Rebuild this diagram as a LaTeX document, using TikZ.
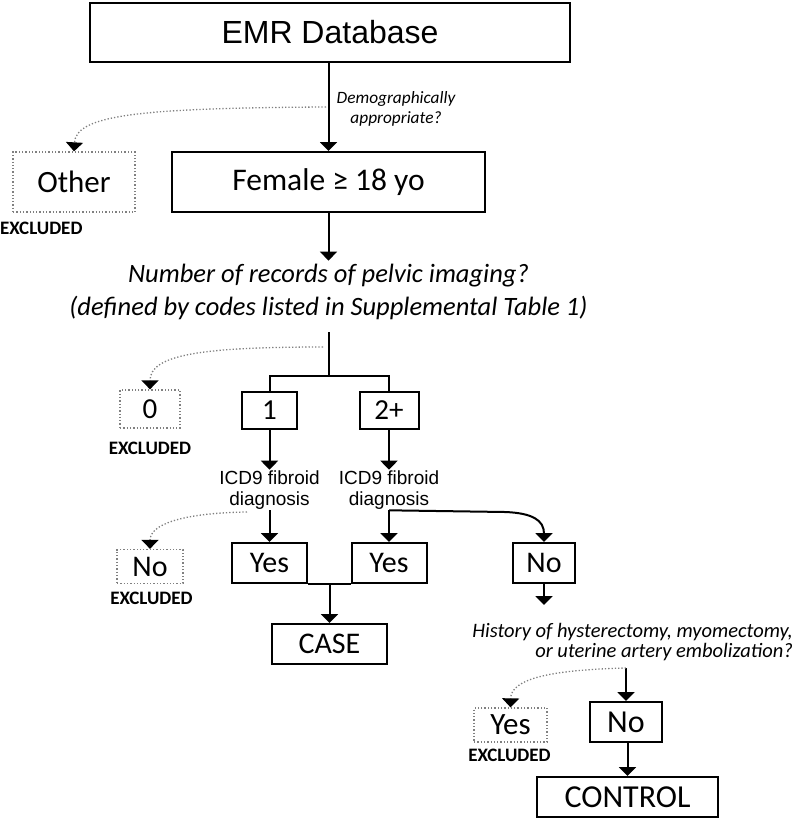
\documentclass[tikz,border=0pt]{standalone}
\usepackage{fontspec}
\setmainfont{Carlito}
\newfontfamily\arialfont{Liberation Sans}
\usetikzlibrary{arrows.meta}

\begin{document}
\begin{tikzpicture}[x=1pt, y=-1pt,
    box/.style n args={2}{draw, line width=2pt, inner sep=0pt,
        minimum width=#1, minimum height=#2},
    exclbox/.style n args={2}{draw=gray, dotted, line width=1.3pt, inner sep=0pt,
        minimum width=#1, minimum height=#2},
    flow/.style={line width=2pt, -{Triangle[width=17pt,length=9pt]}},
    link/.style={line width=2pt},
    exclflow/.style={draw=gray, dotted, line width=1.3pt,
        -{Triangle[width=17pt,length=9pt,color=black]}},
    txt/.style={font=\fontsize{#1}{#1}\selectfont},
    excl/.style={font=\fontsize{19}{20}\selectfont\bfseries},
    ask/.style 2 args={font=\fontsize{#1}{#2}\selectfont\itshape, align=center}
]
    \useasboundingbox (0,0) rectangle (792,820);

    % Top boxes
    \node[box={480pt}{59pt}, font=\arialfont\fontsize{32}{34}\selectfont] (emr) at (330,32.5) {EMR Database};
    \node[box={313pt}{60pt}, txt=31.5] (female) at (328.5,182) {Female ≥ 18 yo};
    \node[exclbox={122pt}{60pt}, txt=31] (other) at (74,182) {Other};
    \node[excl, anchor=east] (otherx) at (86,228) {EXCLUDED};

    \node[ask={17.3}{20}] (demo) at (396,109) {Demographically\\appropriate?};
    \coordinate (demosplit) at (326,107);
    \draw[flow] (emr.south -| female) -- (female);
    \draw[exclflow] (demosplit) .. controls (140,108) and (76,115) .. (other.north);

    % Pelvic imaging
    \node[ask={26.5}{33}] (imaging) at (328.5,292) {Number of records of pelvic imaging?\\(defined by codes listed in Supplemental Table 1)};
    \draw[flow] (female) -- (imaging);

    \node[box={55pt}{37pt}, txt=29] (one) at (269.5,410) {1};
    \node[box={59pt}{37pt}, txt=29] (two) at (389,410) {2+};
    \node[exclbox={60pt}{38pt}, txt=29] (zero) at (150,409) {0};
    \node[excl] (zerox) at (150,448) {EXCLUDED};

    \coordinate (imgtop) at (328.5,332);
    \coordinate (imgfork) at (328.5,376);
    \coordinate (imgsplit) at (323,347);
    \draw[link] (imgtop) -- (imgfork);
    \draw[link] (one.north) |- (imgfork) -| (two.north);
    \draw[exclflow] (imgsplit) .. controls (200,347) and (150,355) .. (zero.north);

    % ICD9 diagnosis
    \node[font=\arialfont\fontsize{19}{20.5}\selectfont, align=center, inner sep=1pt] (icdone) at (269.5,490) {ICD9 fibroid\\diagnosis};
    \node[font=\arialfont\fontsize{19}{20.5}\selectfont, align=center, inner sep=1pt] (icdtwo) at (389,490) {ICD9 fibroid\\diagnosis};
    \draw[flow] (one) -- (icdone);
    \draw[flow] (two) -- (icdtwo);

    \node[box={75pt}{40pt}, txt=30] (yesone) at (269.5,563) {Yes};
    \node[box={75pt}{40pt}, txt=30] (yestwo) at (389,563) {Yes};
    \node[box={62pt}{40pt}, txt=30] (notwo) at (544,563) {No};
    \node[exclbox={66pt}{34pt}, txt=30] (noone) at (150,566.5) {No};
    \node[excl] (nox) at (151.5,598) {EXCLUDED};

    \coordinate (icdsplit) at (247,512);
    \draw[flow] (icdone) -- (yesone);
    \draw[flow] (icdtwo) -- (yestwo);
    \draw[flow] (icdtwo.south) -- (505,512) .. controls (532,513) and (544,520) .. (notwo.north);
    \draw[exclflow] (icdsplit) .. controls (180,513) and (150,525) .. (noone.north);

    % Case
    \node[box={115pt}{40pt}, txt=30] (case) at (329.5,644) {CASE};
    \coordinate (yesjoin) at (329.5,583);
    \draw[link] (yesone.south east) -- (yestwo.south west);
    \draw[flow] (yesjoin) -- (case);

    % Control
    \node[ask={20.5}{20}, align=right, anchor=east, inner sep=0pt] (history) at (793,642) {History of hysterectomy, myomectomy,\\or uterine artery embolization?};
    \coordinate (histtop) at (544,605);
    \draw[flow] (notwo) -- (histtop);

    \node[box={72pt}{40pt}, txt=32] (nothree) at (626,722) {No};
    \node[exclbox={73pt}{34pt}, txt=31] (yesthree) at (510.5,725) {Yes};
    \node[excl] (yesx) at (509.5,755) {EXCLUDED};
    \node[box={181pt}{40pt}, txt=32] (control) at (627.5,797) {CONTROL};

    \coordinate (histsplit) at (626,668);
    \draw[flow] (histsplit) -- (nothree);
    \draw[exclflow] (histsplit) .. controls (545,670) and (511,680) .. (yesthree.north);
    \draw[flow] (nothree.south -| control) -- (control);
\end{tikzpicture}
\end{document}
